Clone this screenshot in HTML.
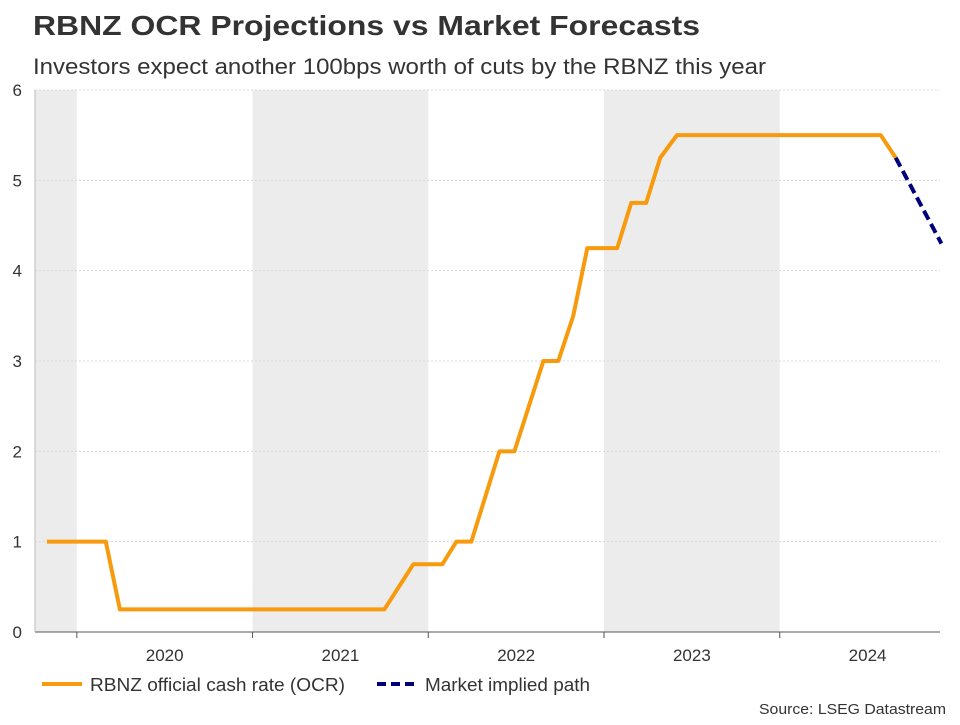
<!DOCTYPE html>
<html><head><meta charset="utf-8"><style>
body{margin:0;background:#fff;font-family:"Liberation Sans",sans-serif;}
svg text{font-family:"Liberation Sans",sans-serif;}
</style></head><body>
<svg id="chart" width="960" height="720" viewBox="0 0 960 720">
<text x="33" y="35" font-size="28" font-weight="bold" fill="#333" textLength="667" lengthAdjust="spacingAndGlyphs">RBNZ OCR Projections vs Market Forecasts</text>
<text x="33" y="74" font-size="22" fill="#333" textLength="733" lengthAdjust="spacingAndGlyphs">Investors expect another 100bps worth of cuts by the RBNZ this year</text>
<g id="bands"></g><g id="grid"></g><g id="axes"></g><g id="series"></g>
<g>
<line x1="42" y1="684" x2="82" y2="684" stroke="#f79a0e" stroke-width="4"/>
<text x="90" y="691" font-size="18" fill="#333" textLength="255" lengthAdjust="spacingAndGlyphs">RBNZ official cash rate (OCR)</text>
<line x1="377" y1="684" x2="417" y2="684" stroke="#00007a" stroke-width="4" stroke-dasharray="9,5"/>
<text x="425" y="691" font-size="18" fill="#333" textLength="165" lengthAdjust="spacingAndGlyphs">Market implied path</text>
</g>
<text x="759" y="714" font-size="15" fill="#333" textLength="187" lengthAdjust="spacingAndGlyphs">Source: LSEG Datastream</text>
</svg>
<script>
const ocrDates=[2019.83,2020.165,2020.245,2021.75,2021.915,2022.08,2022.16,2022.245,2022.325,2022.405,2022.49,2022.655,2022.74,2022.825,2022.905,2023.075,2023.155,2023.24,2023.32,2023.415,2024.575,2024.66];
const ocrValues=[1,1,0.25,0.25,0.75,0.75,1,1,1.5,2,2,3,3,3.5,4.25,4.25,4.75,4.75,5.25,5.5,5.5,5.25];
const marketDates=[2024.66,2024.92];
const marketValues=[5.25,4.3];
const yTicks=[0,1,2,3,4,5,6];
const yearLabels=["2020","2021","2022","2023","2024"];
const yearStarts=[2020,2021,2022,2023,2024];
const shadedYears=[2019,2021,2023];
const x0=35,x1=940,t0=2019.762,t1=2024.912,yTop=90,yBot=632,vMax=6;
const X=t=>x0+(t-t0)/(t1-t0)*(x1-x0);
const Y=v=>yBot-v/vMax*(yBot-yTop);
const NS="http://www.w3.org/2000/svg";
function mk(tag,attrs,parent){const e=document.createElementNS(NS,tag);for(const k in attrs)e.setAttribute(k,attrs[k]);document.getElementById(parent).appendChild(e);return e;}
shadedYears.forEach(yr=>{const a=Math.max(X(yr),x0),b=Math.min(X(yr+1),x1);
const r=mk('rect',{x:a,y:yTop,width:b-a,height:yBot-yTop,fill:'#ececec'},'bands');

});
yTicks.forEach(v=>{
const l=mk('line',{x1:x0,x2:x1,y1:Y(v),y2:Y(v),stroke:'#d8d8d8','stroke-width':1,'stroke-dasharray':'2,2'},'grid');


const t=mk('text',{x:22,y:Y(v)+6,'font-size':17,fill:'#333','text-anchor':'end'},'axes');
t.textContent=v;

});
const ax=mk('line',{x1:x0,x2:x1,y1:yBot,y2:yBot,stroke:'#555','stroke-width':1},'axes');


const ay=mk('line',{x1:x0,x2:x0,y1:yTop,y2:yBot,stroke:'#bbb','stroke-width':1},'axes');


yearStarts.forEach((yr,i)=>{
const tk=mk('line',{x1:X(yr),x2:X(yr),y1:yBot,y2:yBot+6,stroke:'#555'},'axes');


const t=mk('text',{x:X(yr+0.5),y:yBot+29,'font-size':17,fill:'#333','text-anchor':'middle'},'axes');
t.textContent=yearLabels[i];

});
const p1=mk('polyline',{points:ocrDates.map((d,i)=>X(d)+','+Y(ocrValues[i])).join(' '),fill:'none',stroke:'#f79a0e','stroke-width':4,'stroke-linejoin':'round'},'series');


const p2=mk('polyline',{points:marketDates.map((d,i)=>X(d)+','+Y(marketValues[i])).join(' '),fill:'none',stroke:'#00007a','stroke-width':4,'stroke-dasharray':'10,5'},'series');


</script>
</body></html>
